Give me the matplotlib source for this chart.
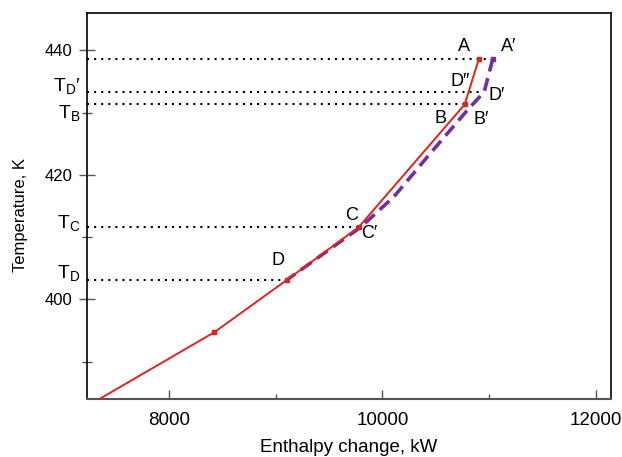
import matplotlib
matplotlib.use("Agg")
import matplotlib.pyplot as plt
from matplotlib.ticker import MultipleLocator
import matplotlib.transforms as mtrans

plt.rcParams['font.family'] = ['Liberation Sans', 'DejaVu Sans']
plt.rcParams['mathtext.fontset'] = 'custom'
plt.rcParams['mathtext.rm'] = 'Liberation Sans'
plt.rcParams['mathtext.it'] = 'Liberation Sans'

# Data
red_H = [10903, 10771, 9778, 9104, 8424, 7300]
red_T = [438.6, 431.3, 411.6, 403.1, 394.7, 383.5]
red_mark_H = [10903, 10771, 9778, 9104, 8424]
red_mark_T = [438.6, 431.3, 411.6, 403.1, 394.7]
purple_H = [11034, 10953, 10797, 10422, 10109, 9797, 9104]
purple_T = [438.6, 433.3, 430.4, 422.9, 416.5, 411.6, 403.1]

guide_T = [438.6, 433.3, 431.3, 411.6, 403.1]
guide_H_end = [11034, 10910, 10771, 9778, 9104]

side_labels = ["T$_{\\mathrm{D}}$\u2032", "T$_{\\mathrm{B}}$", "T$_{\\mathrm{C}}$", "T$_{\\mathrm{D}}$"]
side_label_T = [434.3, 430.0, 412.3, 404.2]

point_labels = ["A", "A\u2032", "D\u2033", "D\u2032", "B", "B\u2032", "C", "C\u2032", "D"]
point_label_H = [10762, 11184, 10724, 11071, 10546, 10921, 9712, 9881, 9019]
point_label_T = [440.6, 440.6, 434.9, 432.8, 429.0, 428.9, 413.5, 410.6, 406.3]

xlim = (7231, 12138)
ylim = (384.0, 445.9)

fig = plt.figure(figsize=(6.22, 4.57), dpi=100)
ax = fig.add_axes([0.1394, 0.1269, 0.8424, 0.8436])
ax.set_xlim(*xlim)
ax.set_ylim(*ylim)

# guide dotted lines
for T, He in zip(guide_T, guide_H_end):
    ax.plot([xlim[0], He], [T, T], color='black', lw=1.5,
            linestyle=(0, (1, 2.4)), zorder=2)

ax.plot(purple_H, purple_T, color='#7030a0', lw=2.6, linestyle=(0, (3.6, 1.9)),
        zorder=3, solid_capstyle='butt')
ax.plot(red_H, red_T, color='#e3211c', lw=1.4, zorder=4)
ax.plot(red_mark_H, red_mark_T, 's', color='#e3211c', ms=2.5, zorder=5)
ax.plot(purple_H[:1], purple_T[:1], 's', color='#7030a0', ms=2.5, zorder=5)

for s, H, T in zip(point_labels, point_label_H, point_label_T):
    ax.text(H, T, s, fontsize=13, ha='center', va='center', color='black')

trans = mtrans.blended_transform_factory(ax.transAxes, ax.transData)
for s, T in zip(side_labels, side_label_T):
    ax.text(-0.012, T, s, transform=trans, fontsize=14, ha='right', va='center')

ax.xaxis.set_major_locator(MultipleLocator(2000))
ax.xaxis.set_minor_locator(MultipleLocator(1000))
ax.yaxis.set_major_locator(MultipleLocator(20))
ax.yaxis.set_minor_locator(MultipleLocator(10))

ax.tick_params(axis='x', which='major', direction='in', length=6.5, width=1.0,
               color='#555555', labelsize=13.5, pad=9)
ax.tick_params(axis='x', which='minor', direction='in', length=3.5, width=1.0,
               color='#555555')
ax.tick_params(axis='y', which='major', direction='inout', length=12, width=1.0,
               color='#555555', labelsize=12, pad=4)
ax.tick_params(axis='y', which='minor', direction='inout', length=7, width=1.0,
               color='#555555')

for sp in ['top', 'right', 'left']:
    ax.spines[sp].set_color('black')
    ax.spines[sp].set_linewidth(1.2)
ax.spines['bottom'].set_color('#555555')
ax.spines['bottom'].set_linewidth(1.5)

ax.set_xlabel("Enthalpy change, kW", fontsize=13.5)
ax.xaxis.set_label_coords(0.5, -0.104)
ax.xaxis.label.set_va('top')
ax.set_ylabel("Temperature, K", fontsize=12)
ax.yaxis.set_label_coords(-0.112, 0.477)

fig.savefig("out.png", dpi=100)
